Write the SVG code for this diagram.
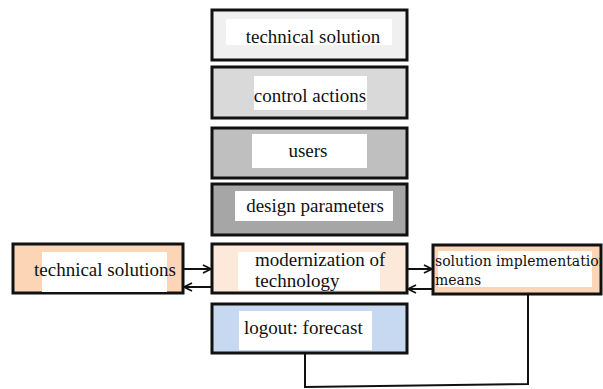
<svg xmlns="http://www.w3.org/2000/svg" width="603" height="389" viewBox="0 0 603 389">
<defs>
<style>
.box{stroke:#111;stroke-width:3}
.lbl{fill:#fff}
.t{font-family:"Liberation Serif","Times New Roman",serif;font-size:19px;fill:#111}
.small{font-family:"DejaVu Serif","Liberation Serif",serif;font-size:14px;fill:#111}
.conn{fill:none;stroke:#111;stroke-width:2}
</style>
<marker id="arr" viewBox="0 0 10 10" refX="9" refY="5" markerWidth="10" markerHeight="10" markerUnits="userSpaceOnUse" orient="auto">
<path d="M1,1 L9,5 L1,9" fill="none" stroke="#111" stroke-width="1.8"/>
</marker>
<clipPath id="solclip"><rect x="434" y="246" width="167" height="47"/></clipPath>
</defs>
<rect width="603" height="389" fill="#fff"/>
<g id="technical-solution">
<rect class="box" x="212" y="10" width="195" height="50" fill="#f0f0f0"/>
<rect class="lbl" x="226" y="19" width="166" height="26"/>
<text class="t" x="313" y="43" text-anchor="middle">technical solution</text>
</g>
<g id="control-actions">
<rect class="box" x="212" y="67" width="195" height="51" fill="#d9d9d9"/>
<rect class="lbl" x="254" y="76" width="113" height="34"/>
<text class="t" x="310" y="102" text-anchor="middle">control actions</text>
</g>
<g id="users">
<rect class="box" x="212" y="128" width="195" height="50" fill="#bfbfbf"/>
<rect class="lbl" x="252" y="134" width="115" height="34"/>
<text class="t" x="308" y="157" text-anchor="middle">users</text>
</g>
<g id="design-parameters">
<rect class="box" x="212" y="184" width="195" height="51" fill="#a6a6a6"/>
<rect class="lbl" x="235" y="191" width="158" height="30"/>
<text class="t" x="315" y="212" text-anchor="middle">design parameters</text>
</g>
<g id="technical-solutions">
<rect class="box" x="13" y="244" width="170" height="49" fill="#fbd5b5"/>
<rect class="lbl" x="42" y="252" width="125" height="40"/>
<text class="t" x="34" y="276">technical solutions</text>
</g>
<g id="modernization">
<rect class="box" x="212" y="244" width="195" height="49" fill="#fde9d9"/>
<rect class="lbl" x="238" y="252" width="142" height="38"/>
<text class="t" x="255" y="266">modernization of</text>
<text class="t" x="255" y="287">technology</text>
</g>
<g id="solution-means">
<rect class="box" x="433" y="245" width="168" height="49" fill="#fbd5b5"/>
<rect class="lbl" x="438" y="251" width="154" height="36"/>
<g clip-path="url(#solclip)">
<text class="small" x="435" y="266">solution implementation</text>
<text class="small" x="435" y="285">means</text>
</g>
</g>
<g id="logout-forecast">
<rect class="box" x="212" y="304" width="195" height="49" fill="#c6d9f1"/>
<rect class="lbl" x="239" y="311" width="133" height="39"/>
<text class="t" x="244" y="334">logout: forecast</text>
</g>
<g id="connectors">
<line class="conn" x1="183" y1="269" x2="211" y2="269" marker-end="url(#arr)"/>
<line class="conn" x1="212" y1="287" x2="184" y2="287" marker-end="url(#arr)"/>
<line class="conn" x1="407" y1="269" x2="432" y2="269" marker-end="url(#arr)"/>
<line class="conn" x1="433" y1="289" x2="408" y2="289" marker-end="url(#arr)"/>
<polyline class="conn" points="305,353 305,387 528,384 528,294"/>
</g>
</svg>
